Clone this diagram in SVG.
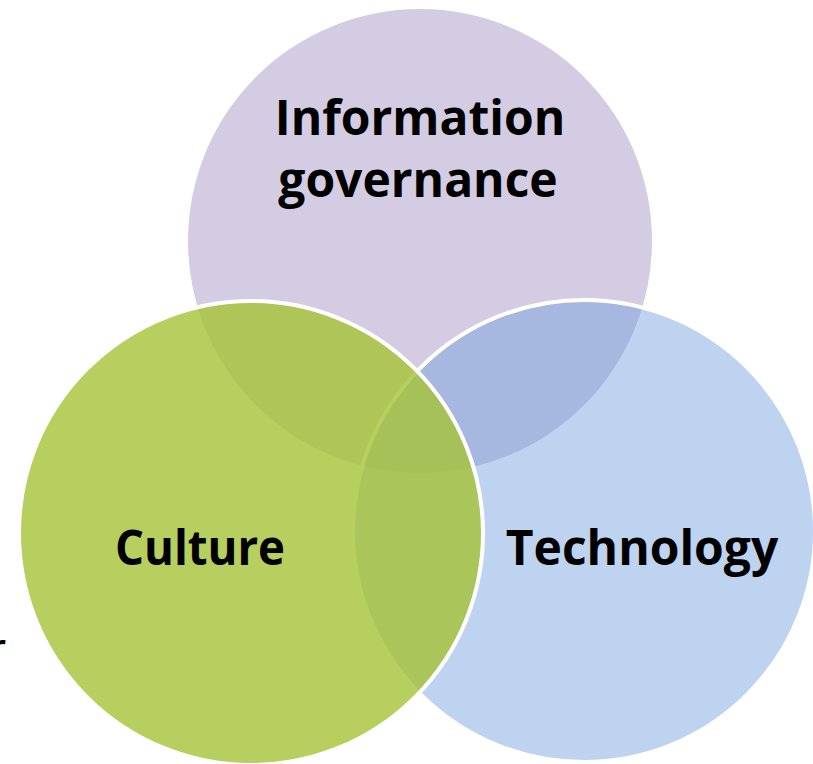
<svg xmlns="http://www.w3.org/2000/svg" width="813" height="764" viewBox="0 0 813 764">
  <style>
    .lbl { font-family: "Open Sans", "Liberation Sans", sans-serif; font-weight: 700; font-size: 48px; fill: #000; text-anchor: middle; }
    .ring { stroke: #ffffff; stroke-width: 4; }
  </style>
  <rect width="813" height="764" fill="#ffffff"/>
  <text x="-11" y="664" font-family="Lato, 'Liberation Sans', sans-serif" font-weight="400" font-size="46" fill="#000">r</text>
  <g id="node-information-governance">
    <circle cx="420" cy="241" r="232" fill="#d4cce2"/>
    <text class="lbl" x="420" y="135">Information</text>
    <text class="lbl" x="418" y="197">governance</text>
  </g>
  <g id="node-technology">
    <circle class="ring" cx="584" cy="531" r="231" fill="rgb(111,158,222)" fill-opacity="0.45"/>
    <text class="lbl" x="642" y="565">Technology</text>
  </g>
  <g id="node-culture">
    <circle class="ring" cx="251" cy="533" r="232" fill="rgb(165,195,54)" fill-opacity="0.8"/>
    <text class="lbl" x="200" y="565" textLength="170" lengthAdjust="spacingAndGlyphs">Culture</text>
  </g>
  <g id="connectors"></g>
</svg>
